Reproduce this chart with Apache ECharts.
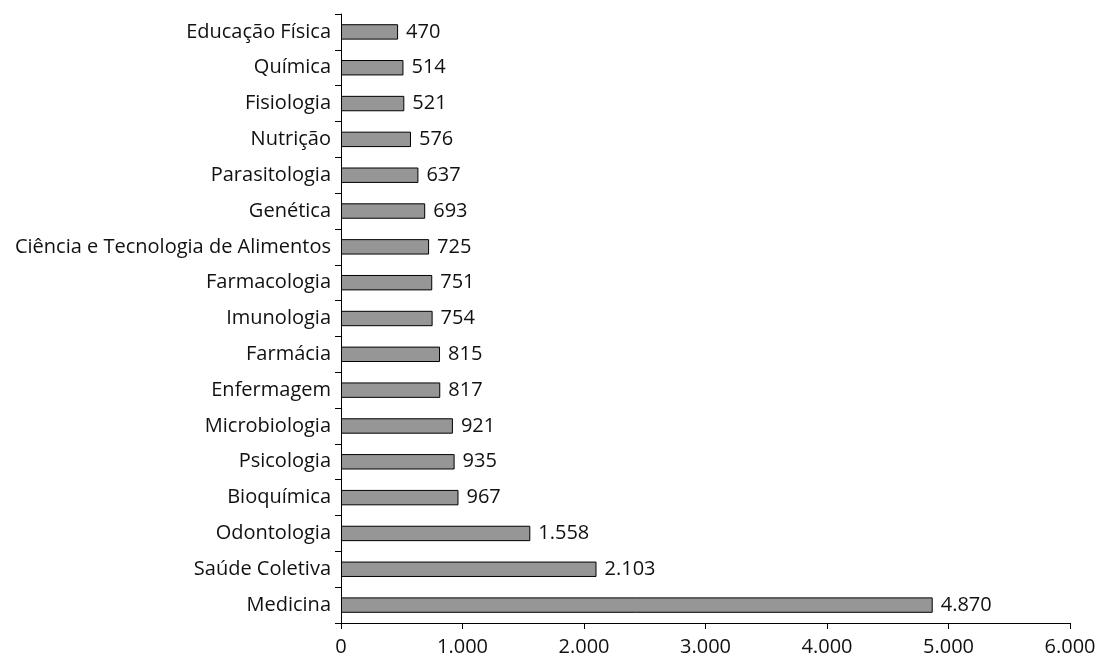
<!DOCTYPE html>
<html><head><meta charset="utf-8">
<script src="https://cdn.jsdelivr.net/npm/echarts@6/dist/echarts.min.js"></script>
<style>html,body{margin:0;padding:0;background:#fff}#c{width:1099px;height:657px}</style>
</head><body><div id="c"></div>
<script>
const categories = ["Medicina","Saúde Coletiva","Odontologia","Bioquímica","Psicologia","Microbiologia","Enfermagem","Farmácia","Imunologia","Farmacologia","Ciência e Tecnologia de Alimentos","Genética","Parasitologia","Nutrição","Fisiologia","Química","Educação Física"];
const values = [4870,2103,1558,967,935,921,817,815,754,751,725,693,637,576,521,514,470];
const xTicks = [0,1000,2000,3000,4000,5000,6000];

function fmt(v){ return String(v).replace(/\B(?=(\d{3})+(?!\d))/g,'.'); }
const FONT = 'Open Sans';
const chart = echarts.init(document.getElementById('c'));
chart.setOption({
  animation:false,
  grid:{left:341,right:29,top:14,bottom:34,containLabel:false},
  xAxis:{type:'value',min:xTicks[0],max:xTicks[xTicks.length-1],interval:1000,
    axisLine:{show:true,lineStyle:{color:'#000',width:1}},
    axisTick:{show:true,length:6,lineStyle:{color:'#000'}},
    splitLine:{show:false},
    axisLabel:{color:'#111',fontFamily:FONT,fontSize:20,margin:14,formatter:fmt}},
  yAxis:{type:'category',data:categories,
    axisLine:{show:true,lineStyle:{color:'#000',width:1}},
    axisTick:{show:true,length:6,alignWithLabel:false,lineStyle:{color:'#000'}},
    axisLabel:{color:'#111',fontFamily:FONT,fontSize:20,margin:10}},
  series:[{type:'bar',data:values,barCategoryGap:'57%',
    itemStyle:{color:'#969696',borderColor:'#000',borderWidth:1},
    label:{show:true,position:'right',distance:8,color:'#111',fontFamily:FONT,fontSize:20,formatter:p=>fmt(p.value)}}]
});
</script></body></html>
